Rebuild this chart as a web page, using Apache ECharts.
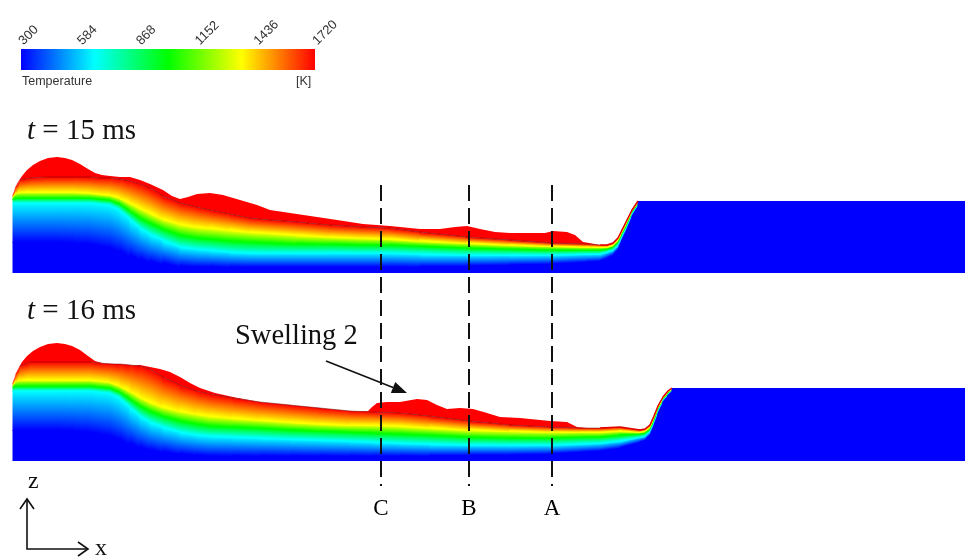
<!DOCTYPE html>
<html><head><meta charset="utf-8">
<script src="https://cdn.jsdelivr.net/npm/echarts@6/dist/echarts.min.js"></script>
<style>html,body{margin:0;padding:0;background:#fff}#c{width:965px;height:558px}</style>
</head><body><div id="c"></div>
<script>
// ---------------- DATA ----------------
// Colour-bar tick labels (K)
const tempTicks = ['300', '584', '868', '1152', '1436', '1720'];

// Panel t = 15 ms : isotherm heights z above the substrate bottom along x
const p1X    = [0,3,7,17,32,47,62,77,87,97,107,117,127,137,150,167,184,197,217,237,257,284,317,350,377,407,454,497,537,574,587,594,600,605,609,614,619,625];
const p1Melt = [78,86,93,95,96,96,96,96,95,95,94,92,89,85,77,70,66,63,59,55,53,51,48,46,45,41,36,33,30,29,28,28,30,35,43,53,63,72];
const p1Yel  = [77,80,81,81,81,81,81,80,79,78,75,70,65,60,54,49,46,45,43,41,40,38,36,35,34,32,30,28,27,26,26,26,28,33,41,51,62,71];
const p1Grn  = [74,75,75,75,75,75,75,75,74,73,69,62,55,50,44,38,35,34,32,31,30,29,29,28,28,27,25,24,23,23,23,24,26,31,39,49,61,70];
const p1Cyn  = [70,70,70,70,70,70,70,70,69,68,63,54,45,39,33,26,24,23,21,20,20,20,20,20,20,19,18,18,18,19,19,21,23,28,37,47,59,69];
const p1Blu  = [31,31,31,31,31,31,30,29,27,25,21,17,14,11,9,7,6,6,6,6,6,6,6,6,6,6,7,8,9,11,12,15,18,24,33,44,57,68];
// free surface of the melt (t = 15 ms)
const p1SurfX = [0,2,5,9,14,20,27,35,44,52,59,67,75,82,89,97,107,117,127,137,150,159,167,175,184,197,210,227,244,257,277,304,324,350,377,407,427,442,454,467,482,497,514,532,540,554,562,570,582,587];
const p1SurfZ = [78,85,91,97,103,108,112,115,116,115,113,109,104,100,98,97,96,96,93,89,83,77,74,76,79,80,78,73,68,63,60,56,53,49,47,44,44,46,47,44,41,40,40,40,42,41,38,31,29,28];
// unmelted powder block (start x, top z)
const p1Block = [625, 72];

// Panel t = 16 ms
const p2X    = [0,3,7,17,32,47,62,77,87,97,107,117,127,137,150,167,184,197,220,247,277,307,337,360,387,417,457,497,537,567,587,607,627,632,637,641,645,650,655,659];
const p2Melt = [78,87,95,99,99,99,99,99,98,97,97,96,95,92,84,76,70,67,63,59,56,53,50,49,48,45,40,36,34,33,33,34,31,32,36,45,55,64,70,73];
const p2Yel  = [77,80,81,81,81,81,81,81,80,79,75,70,64,59,54,50,47,45,43,41,39,37,36,36,35,33,31,30,29,29,29,30,29,30,34,43,53,63,69,72.5];
const p2Grn  = [74,75,75,75,75,75,75,75,74,73,69,62,55,50,45,40,37,35,34,33,31,30,29,28,27,26,24,23,23,24,24,26,27,28,32,41,52,62,68,72];
const p2Cyn  = [70,70,70,70,70,70,70,70,69,68,63,54,45,39,34,29,26,25,24,23,22,21,20,19,18,17,16,16,16,17,18,20,24,25,30,39,50,61,67,71.5];
const p2Blu  = [31,31,31,31,31,31,30,29,27,25,21,17,14,11,9,7,6,5,5,5,5,5,5,5,5,5,6,6,7,9,10,13,19,21,26,36,48,59,66,71];
const p2SurfX = [0,2,5,9,14,20,27,35,44,52,59,67,75,82,89,102,117,127,137,147,157,167,177,187,202,220,247,277,307,337,355,359,364,374,387,404,414,424,434,447,460,474,487,507,537,554,564,574,587];
const p2SurfZ = [78,85,92,99,105,110,114,117,118,117,115,111,105,100,98,97,96,96,94,92,89,84,78,73,68,64,59,56,53,50,50,54,58,59,59,62,61,56,52,53,52,48,44,43,40,39,34,33,33];
const p2Block = [659, 73];

// Sections
const sectionNames = ['C', 'B', 'A'];
const sectionX = [368, 456, 539];

// ---------------- RENDER ----------------
const chart = echarts.init(document.getElementById('c'));
const LEVEL_COLORS = ['#ff0000', '#ffff00', '#00ff00', '#00ffff', '#0000ff', '#0000ff'];
const XMAX = 952, ZMAX = 140;

function rowsOf(X, M, Y, G, C, B) { return X.map((x, i) => [x, M[i], Y[i], G[i], C[i], B[i]]); }

function fieldSeries(idx, rows) {
  return {
    type: 'custom', xAxisIndex: idx, yAxisIndex: idx, silent: true, animation: false, z: 1,
    data: rows.slice(0, -1).map(r => [r[0], r[1]]), encode: { x: 0, y: 1 },
    renderItem(params, api) {
      const a = rows[params.dataIndex], b = rows[params.dataIndex + 1];
      const kids = [];
      for (let k = 4; k >= 0; k--) {
        const t0 = api.coord([a[0], a[1 + k]]), t1 = api.coord([b[0], b[1 + k]]);
        const b0 = api.coord([a[0], k < 4 ? a[2 + k] : 0]), b1 = api.coord([b[0], k < 4 ? b[2 + k] : 0]);
        if (b0[1] - t0[1] < 0.05 && b1[1] - t1[1] < 0.05) continue;
        let dx = ((t1[0] - t0[0]) + (b1[0] - b0[0])) / 2, dy = ((t1[1] - t0[1]) + (b1[1] - b0[1])) / 2;
        const len = Math.hypot(dx, dy) || 1; dx /= len; dy /= len;
        const nx = -dy, ny = dx;
        const tmx = (t0[0] + t1[0]) / 2, tmy = (t0[1] + t1[1]) / 2;
        const bmx = (b0[0] + b1[0]) / 2, bmy = (b0[1] + b1[1]) / 2;
        let L = (bmx - tmx) * nx + (bmy - tmy) * ny; if (L < 0.5) L = 0.5;
        const ext = k < 4 ? 1 : 0;
        kids.push({
          type: 'polygon',
          shape: { points: [[t0[0] - 0.5, t0[1]], [t1[0] + 0.5, t1[1]], [b1[0] + 0.5, b1[1] + ext], [b0[0] - 0.5, b0[1] + ext]] },
          style: { fill: { type: 'linear', x: tmx, y: tmy, x2: tmx + nx * L, y2: tmy + ny * L, global: true,
            colorStops: [{ offset: 0, color: LEVEL_COLORS[k] }, { offset: 1, color: LEVEL_COLORS[k + 1] }] } }
        });
      }
      return { type: 'group', children: kids };
    }
  };
}

function poolSeries(idx, sx, sz, mx, mz) {
  return {
    type: 'custom', xAxisIndex: idx, yAxisIndex: idx, silent: true, animation: false, z: 2,
    data: [[sx[0], sz[0]]], encode: { x: 0, y: 1 },
    renderItem(params, api) {
      const pts = sx.map((x, i) => api.coord([x, sz[i]]));
      const lastX = sx[sx.length - 1];
      for (let i = mx.length - 1; i >= 0; i--) if (mx[i] <= lastX) pts.push(api.coord([mx[i], mz[i]]));
      return { type: 'polygon', shape: { points: pts }, style: { fill: '#ff0000' } };
    }
  };
}

function contourSeries(idx, mx, mz, x0, x1, color, width) {
  return {
    type: 'line', xAxisIndex: idx, yAxisIndex: idx, silent: true, animation: false, z: 3,
    data: mx.map((x, i) => [x, mz[i]]).filter(p => p[0] >= x0 && p[0] <= x1),
    showSymbol: false, symbol: 'none', lineStyle: { color: color, width: width }
  };
}

function blockSeries(idx, blk) {
  return {
    type: 'custom', xAxisIndex: idx, yAxisIndex: idx, silent: true, animation: false, z: 2,
    data: [blk], encode: { x: 0, y: 1 },
    renderItem(params, api) {
      const p0 = api.coord([blk[0], blk[1]]), p1 = api.coord([XMAX, 0]);
      return { type: 'rect', shape: { x: p0[0] - 0.5, y: p0[1], width: p1[0] - p0[0] + 0.5, height: p1[1] - p0[1] },
        style: { fill: '#0000ff' } };
    }
  };
}

const rows1 = rowsOf(p1X, p1Melt, p1Yel, p1Grn, p1Cyn, p1Blu);
const rows2 = rowsOf(p2X, p2Melt, p2Yel, p2Grn, p2Cyn, p2Blu);

const serif = '"Liberation Serif", "Times New Roman", serif';
const sans = '"Liberation Sans", Arial, sans-serif';

const series = [
  fieldSeries(0, rows1), poolSeries(0, p1SurfX, p1SurfZ, p1X, p1Melt), blockSeries(0, p1Block),
  contourSeries(0, p1X, p1Melt, 7, 587, 'rgba(90,0,0,0.45)', 1),
  contourSeries(0, p1X, p1Melt, 587, 625, '#e00000', 1.5),
  fieldSeries(1, rows2), poolSeries(1, p2SurfX, p2SurfZ, p2X, p2Melt), blockSeries(1, p2Block),
  contourSeries(1, p2X, p2Melt, 7, 587, 'rgba(90,0,0,0.45)', 1),
  contourSeries(1, p2X, p2Melt, 587, 659, '#e00000', 1.5)
];

// section dashed lines
sectionX.forEach(x => series.push({
  type: 'line', xAxisIndex: 2, yAxisIndex: 2, data: [[x, 1], [x, 0]], symbol: 'none', silent: true, animation: false, z: 10,
  lineStyle: { color: '#111', width: 2, type: [16, 7] }
}));
series.push({
  type: 'scatter', xAxisIndex: 2, yAxisIndex: 2, silent: true, animation: false, z: 10,
  data: sectionX.map((x, i) => ({ value: [x, 0], name: sectionNames[i] })),
  symbolSize: 1, itemStyle: { color: 'rgba(0,0,0,0)' },
  label: { show: true, position: 'bottom', distance: 11, formatter: '{b}', fontFamily: serif, fontSize: 23, color: '#000', opacity: 1 }
});

// colour bar
series.push({
  type: 'custom', xAxisIndex: 3, yAxisIndex: 3, silent: true, animation: false,
  data: [[0, 0]], encode: { x: 0, y: 1 },
  renderItem(params, api) {
    const p0 = api.coord([0, 1]), p1 = api.coord([tempTicks.length - 1, 0]);
    return { type: 'rect', shape: { x: p0[0], y: p0[1], width: p1[0] - p0[0], height: p1[1] - p0[1] },
      style: { fill: { type: 'linear', x: 0, y: 0, x2: 1, y2: 0, colorStops: [
        { offset: 0, color: '#0000ff' }, { offset: 0.25, color: '#00ffff' }, { offset: 0.5, color: '#00ff00' },
        { offset: 0.75, color: '#ffff00' }, { offset: 1, color: '#ff0000' }] } } };
  }
});

// "Swelling 2" arrow (panel t = 16 ms, data coordinates)
series.push({
  type: 'custom', xAxisIndex: 1, yAxisIndex: 1, silent: true, animation: false, z: 12,
  data: [[313, 100, 394, 68]], encode: { x: 0, y: 1 },
  renderItem(params, api) {
    const a = api.coord([api.value(0), api.value(1)]), b = api.coord([api.value(2), api.value(3)]);
    let dx = b[0] - a[0], dy = b[1] - a[1]; const l = Math.hypot(dx, dy); dx /= l; dy /= l;
    const hl = 15, hw = 6;
    const base = [b[0] - dx * hl, b[1] - dy * hl];
    return { type: 'group', children: [
      { type: 'line', shape: { x1: a[0], y1: a[1], x2: base[0], y2: base[1] }, style: { stroke: '#111', lineWidth: 1.6 } },
      { type: 'polygon', shape: { points: [b, [base[0] - dy * hw, base[1] + dx * hw], [base[0] + dy * hw, base[1] - dx * hw]] }, style: { fill: '#111' } }
    ] };
  }
});

const hid = { show: false };
const titleRich = {
  i: { fontFamily: serif, fontSize: 29, fontStyle: 'italic', fontWeight: 'normal', color: '#111' },
  n: { fontFamily: serif, fontSize: 29, fontWeight: 'normal', color: '#111' }
};
const option = {
  backgroundColor: '#fff',
  animation: false,
  grid: [
    { left: 13, top: 273 - ZMAX, width: XMAX, height: ZMAX },
    { left: 13, top: 461 - ZMAX, width: XMAX, height: ZMAX },
    { left: 13, top: 185, width: XMAX, height: 301 },
    { left: 21, top: 49, width: 294, height: 21 }
  ],
  xAxis: [
    { gridIndex: 0, type: 'value', min: 0, max: XMAX, show: false },
    { gridIndex: 1, type: 'value', min: 0, max: XMAX, show: false },
    { gridIndex: 2, type: 'value', min: 0, max: XMAX, show: false },
    { gridIndex: 3, type: 'category', data: tempTicks, boundaryGap: false, position: 'top',
      axisLine: hid, axisTick: hid, splitLine: hid,
      axisLabel: { interval: 0, rotate: 45, margin: 6, fontSize: 13, color: '#333', fontFamily: sans } }
  ],
  yAxis: [
    { gridIndex: 0, type: 'value', min: 0, max: ZMAX, show: false },
    { gridIndex: 1, type: 'value', min: 0, max: ZMAX, show: false },
    { gridIndex: 2, type: 'value', min: 0, max: 1, show: false },
    { gridIndex: 3, type: 'value', min: 0, max: 1, show: false }
  ],
  title: [
    { text: '{i|t}{n| = 15 ms}', left: 27, top: 117, padding: 0, textStyle: { fontWeight: 'normal', rich: titleRich } },
    { text: '{i|t}{n| = 16 ms}', left: 27, top: 297, padding: 0, textStyle: { fontWeight: 'normal', rich: titleRich } }
  ],
  graphic: [
    { type: 'text', left: 22, top: 75, style: { text: 'Temperature', font: '12.5px ' + sans, fill: '#333' } },
    { type: 'text', left: 296, top: 75, style: { text: '[K]', font: '12.5px ' + sans, fill: '#333' } },
    { type: 'text', left: 235, top: 322, style: { text: 'Swelling 2', font: '28.5px ' + serif, fill: '#111' } },
    { type: 'text', left: 28, top: 470, style: { text: 'z', font: '24px ' + serif, fill: '#111' } },
    { type: 'text', left: 95, top: 537, style: { text: 'x', font: '24px ' + serif, fill: '#111' } },
    { type: 'polyline', shape: { points: [[27, 499], [27, 549], [88, 549]] }, style: { stroke: '#111', lineWidth: 1.6, fill: null } },
    { type: 'polyline', shape: { points: [[20, 509], [27, 499], [34, 509]] }, style: { stroke: '#111', lineWidth: 1.6, fill: null } },
    { type: 'polyline', shape: { points: [[78, 542], [88, 549], [78, 556]] }, style: { stroke: '#111', lineWidth: 1.6, fill: null } }
  ],
  series: series
};
chart.setOption(option);
</script>
</body></html>
